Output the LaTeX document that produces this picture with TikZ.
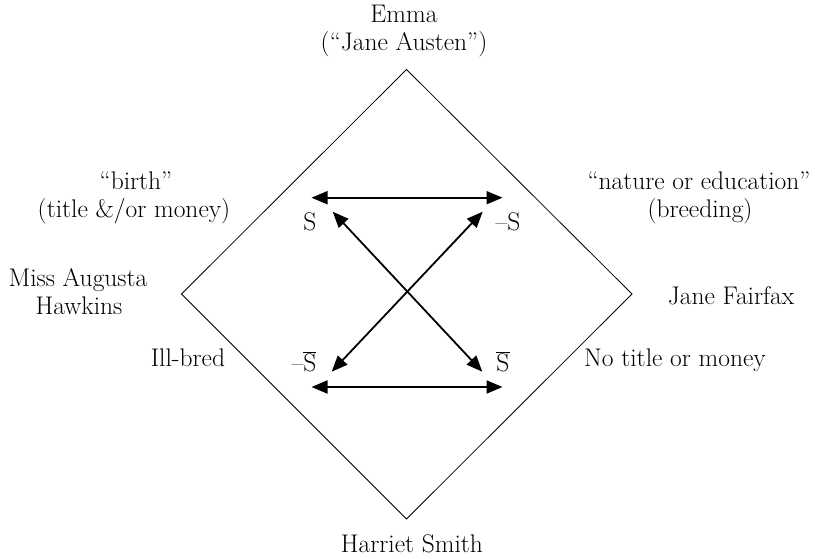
\documentclass[tikz,border=0pt]{standalone}
\usetikzlibrary{arrows.meta}
\begin{document}
\begin{tikzpicture}[x=1pt,y=-1pt,
  lbl/.style={anchor=base,inner sep=0pt,font=\fontsize{25.5}{28}\selectfont},
  sym/.style={anchor=center,inner sep=0pt,font=\fontsize{25.5}{28}\selectfont},
  frame/.style={line width=0.8pt,line join=miter},
  dblarrow/.style={line width=1.8pt,{Triangle[length=16pt,width=13pt]}-{Triangle[length=16pt,width=13pt]},shorten <=0pt,shorten >=0pt}]
\useasboundingbox (0,0) rectangle (815,559);

% corners of the square
\coordinate (top) at (406.5,69.5);
\coordinate (right) at (632,294);
\coordinate (bottom) at (406.5,519);
\coordinate (left) at (181.5,294);
\draw[frame] (top) -- (right) -- (bottom) -- (left) -- cycle;

% arrow end points
\coordinate (tl) at (311.5,197.7);
\coordinate (tr) at (502.5,197.7);
\coordinate (bl) at (311.5,387);
\coordinate (br) at (502.5,387);
\coordinate (dtl) at (332.7,211.7);
\coordinate (dtr) at (482.7,211.7);
\coordinate (dbl) at (331.7,371.7);
\coordinate (dbr) at (482.3,371.7);

\draw[dblarrow] (tl) -- (tr);
\draw[dblarrow] (bl) -- (br);
\draw[dblarrow] (dtl) -- (dbr);
\draw[dblarrow] (dtr) -- (dbl);

% symbols at the arrow ends
\node[sym] (s) at (310,222) {S};
\node[sym] (ns) at (508,222) {–S};
\node[sym] (nsb) at (304,362) {–$\overline{\mbox{S}}$};
\node[sym] (sb) at (503,362) {$\overline{\mbox{S}}$};

% labels round the square
\node[lbl] (emma) at (404,23) {Emma};
\node[lbl] (austen) at (404,51) {(“Jane Austen”)};
\node[lbl] (birth) at (136,190) {“birth”};
\node[lbl] (money) at (134,218) {(title \&/or money)};
\node[lbl] (nature) at (699,190) {“nature or education”};
\node[lbl] (breeding) at (700,218) {(breeding)};
\node[lbl] (miss) at (78,287) {Miss Augusta};
\node[lbl] (hawkins) at (79,315) {Hawkins};
\node[lbl] (jane) at (731,305) {Jane Fairfax};
\node[lbl] (illbred) at (188,366) {Ill-bred};
\node[lbl] (notitle) at (675,366) {No title or money};
\node[lbl] (harriet) at (412,552) {Harriet Smith};
\end{tikzpicture}
\end{document}
